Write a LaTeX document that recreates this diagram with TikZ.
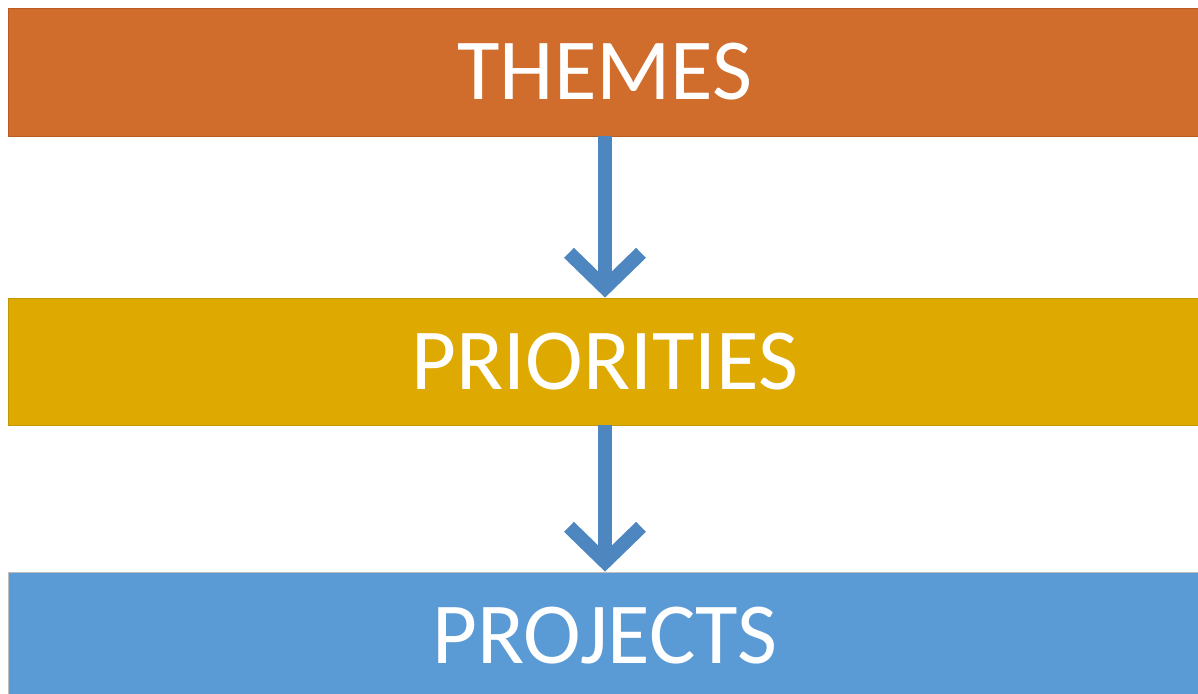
\documentclass[tikz,border=0pt]{standalone}
\usepackage{fontspec}
\setmainfont{Carlito}
\usepackage{tikz}
\usetikzlibrary{arrows.meta,positioning}
\definecolor{themeorange}{RGB}{208,109,45}
\definecolor{themeedge}{RGB}{184,92,36}
\definecolor{prioGold}{RGB}{222,169,0}
\definecolor{prioedge}{RGB}{196,150,0}
\definecolor{projblue}{RGB}{91,155,213}
\definecolor{projedge}{RGB}{190,190,190}
\definecolor{flowblue}{RGB}{78,135,192}
\tikzset{>={Straight Barb[length=35pt,width=72pt,line width=14pt]}}
\tikzset{band/.style={minimum width=1194pt,minimum height=127pt,inner sep=0pt,
    line width=0.8pt,text=white,font=\fontsize{87}{87}\selectfont}}
\tikzset{flow/.style={line width=14pt,color=flowblue,->}}

\begin{document}
\begin{tikzpicture}[x=1pt,y=-1pt]
      \useasboundingbox (0,0) rectangle (1198,693);
      \node[band,fill=themeorange,draw=themeedge,minimum height=128pt] (themes) at (605,72) {THEMES};
      \node[band,fill=prioGold,draw=prioedge] (prio) at (605,361.5) {PRIORITIES};
      \node[band,fill=projblue,draw=projedge,minimum height=128pt] (proj) at (605,636) {PROJECTS};
      \draw[flow] (themes) -- (prio);
      \draw[flow] (prio) -- (proj);
    \end{tikzpicture}
\end{document}
